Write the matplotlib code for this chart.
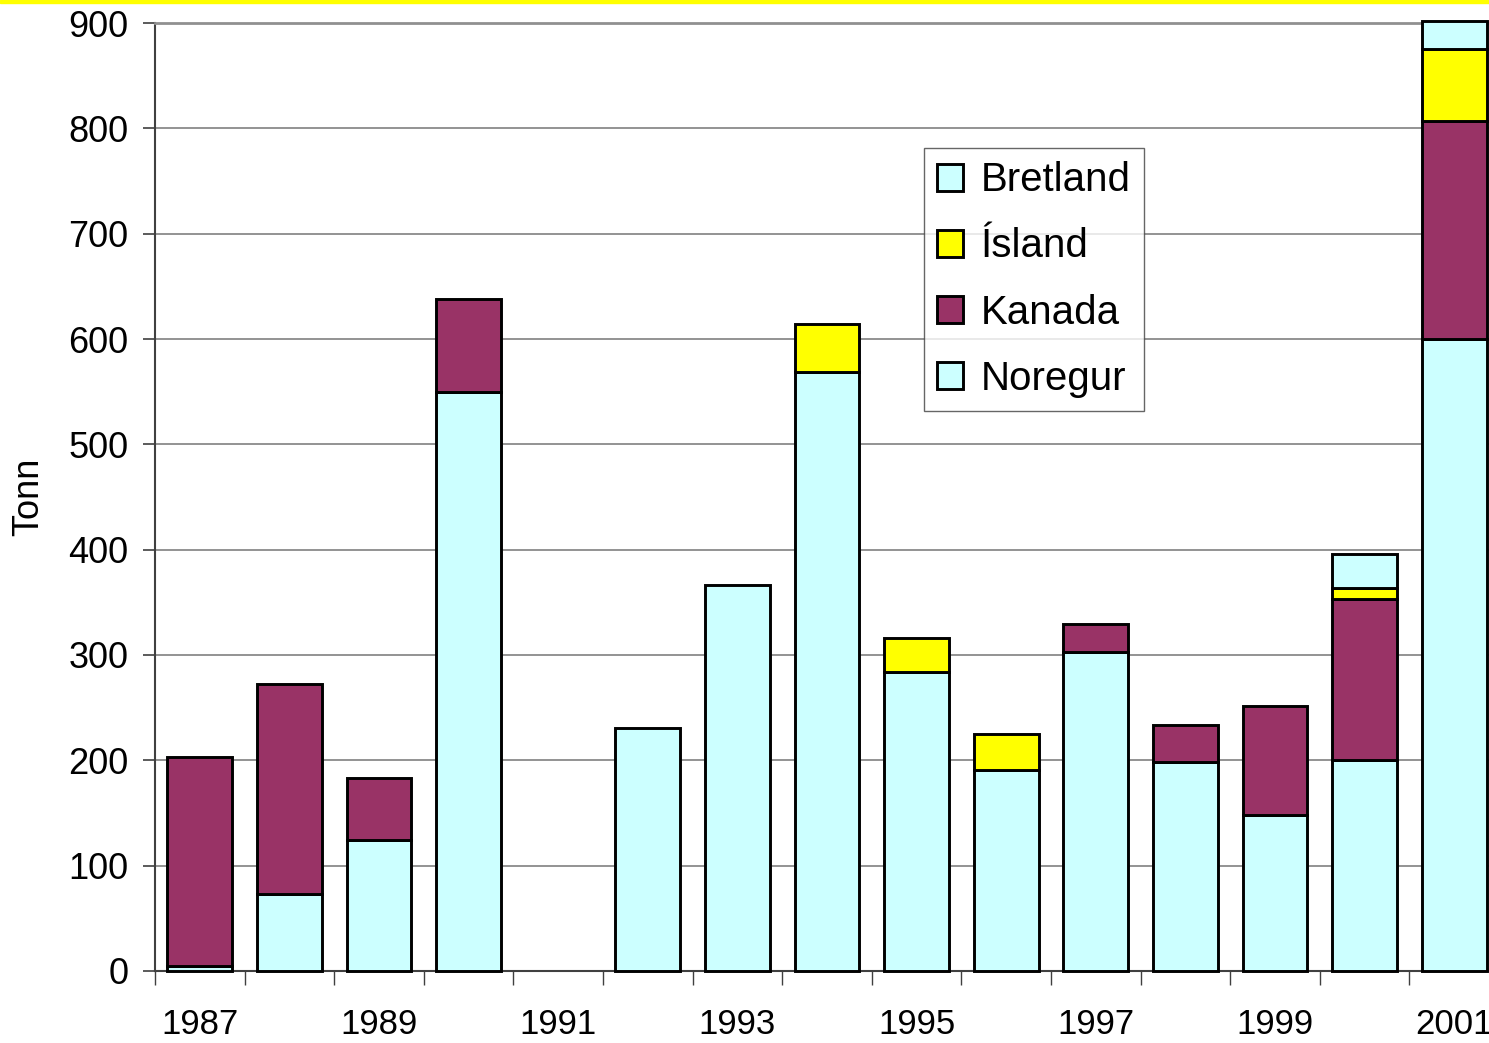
import numpy as np
import matplotlib.pyplot as plt
from matplotlib.patches import Rectangle

plt.rcParams['font.family'] = ['Liberation Sans', 'DejaVu Sans']

# ─────────────────────────────────────────────
# Data (tonn per year)
# ─────────────────────────────────────────────
years = [1987, 1988, 1989, 1990, 1991, 1992, 1993, 1994,
         1995, 1996, 1997, 1998, 1999, 2000, 2001]
noregur = [5, 73, 124, 550, 0, 231, 366, 569, 284, 191, 303, 198, 148, 200, 600]
kanada = [198, 199, 59, 88, 0, 0, 0, 0, 0, 0, 26, 36, 104, 153, 207]
island = [0, 0, 0, 0, 0, 0, 0, 45, 32, 34, 0, 0, 0, 11, 68]
bretland = [0, 0, 0, 0, 0, 0, 0, 0, 0, 0, 0, 0, 0, 32, 27]

series = [("Noregur", noregur, "#CCFFFF"),
          ("Kanada", kanada, "#993366"),
          ("Ísland", island, "#FFFF00"),
          ("Bretland", bretland, "#CCFFFF")]

W, H = 1489, 1043
fig = plt.figure(figsize=(W / 100, H / 100), dpi=100)
ax = fig.add_axes([155 / W, 1 - 971 / H, (1499 - 155) / W, (971 - 23) / H])

x = np.arange(len(years))
bottom = np.zeros(len(years))
handles = {}
for name, vals, color in series:
    vals = np.array(vals, dtype=float)
    mask = vals > 0
    bars = ax.bar(x[mask], vals[mask], bottom=bottom[mask], width=0.725,
                  color=color, edgecolor="black", linewidth=2.1, zorder=3,
                  clip_on=False)
    handles[name] = bars
    bottom += vals

ax.set_xlim(-0.5, len(years) - 0.5)
ax.set_ylim(0, 900)
ax.set_yticks(np.arange(0, 901, 100))
ax.yaxis.grid(True, color="#808080", linewidth=1.2, zorder=0)
ax.tick_params(axis="y", labelsize=26, length=9, width=1.2, color="#404040", pad=10)

# x ticks at slot boundaries, labels every other year at bar centres
ax.set_xticks(np.arange(-0.5, len(years), 1.0))
ax.set_xticklabels([])
ax.tick_params(axis="x", which="major", length=10, width=1.0, color="#404040")
ax.set_xticks(x[::2], minor=True)
ax.set_xticklabels([str(y) for y in years[::2]], minor=True)
ax.tick_params(axis="x", which="minor", length=0, labelsize=25, pad=27)

ax.spines["right"].set_visible(False)
ax.spines["top"].set_color("#909090")
ax.spines["top"].set_linewidth(2.0)
ax.spines["left"].set_color("#404040")
ax.spines["left"].set_linewidth(1.5)
ax.spines["bottom"].set_color("#404040")
ax.spines["bottom"].set_linewidth(1.5)

fig.text(29 / W, 1 - 497 / H, "Tonn", rotation=90, fontsize=26,
         ha="center", va="center")

order = ["Bretland", "Ísland", "Kanada", "Noregur"]
leg = ax.legend([handles[n] for n in order], order, loc="upper left",
                bbox_to_anchor=((924 - 155) / (1499 - 155), 1 - (148 - 23) / (971 - 23)),
                fontsize=29, frameon=True, fancybox=False, edgecolor="#404040",
                handlelength=0.65, handleheight=0.65, handletextpad=0.42,
                labelspacing=0.7, borderpad=0.33, borderaxespad=0)
leg.get_frame().set_linewidth(1.0)
leg.set_zorder(5)

# yellow strip along the top edge
fig.patches.append(Rectangle((0, 1 - 3 / H), 1, 3 / H, transform=fig.transFigure,
                             color="#FFFF00", zorder=10))

fig.savefig("out.png", dpi=100)
